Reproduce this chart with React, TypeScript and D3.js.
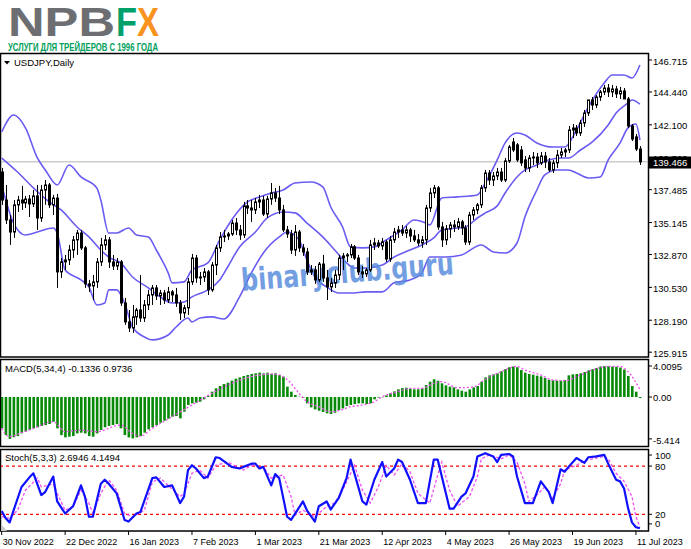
import * as d3 from 'd3';

// OHLC per daily bar, 30 Nov 2022 = bar 0
const candles: [number, number, number, number][] = [
  [138.74, 139.03, 136.4, 136.75], [136.75, 137.82, 135.04, 135.33], [135.33, 135.68, 133.55, 134.47],
  [134.47, 136.75, 134.05, 136.4], [136.4, 137.04, 135.9, 136.75], [136.75, 137.75, 136.04, 136.54],
  [136.54, 137.04, 136.18, 136.82], [136.82, 137.11, 135.54, 136.47], [136.47, 137.46, 136.25, 137.04],
  [137.04, 137.82, 134.62, 135.47], [135.47, 137.82, 135.19, 137.46], [137.46, 138.17, 136.4, 137.82],
  [137.82, 137.96, 136.18, 136.4], [136.4, 137.11, 135.68, 136.89], [136.89, 137.18, 130.49, 131.63],
  [131.63, 132.62, 131.2, 132.34], [132.34, 132.84, 131.77, 132.48], [132.48, 133.55, 132.12, 133.19],
  [133.19, 134.19, 132.62, 133.91], [133.91, 134.62, 132.84, 134.4], [134.4, 134.62, 133.19, 133.34],
  [133.34, 133.48, 130.49, 130.78], [130.78, 131.06, 130.21, 130.63], [130.63, 131.41, 129.63, 130.92],
  [130.92, 132.62, 130.49, 132.34], [132.34, 134.05, 132.05, 133.55], [133.55, 134.26, 133.19, 133.91],
  [133.91, 134.12, 131.91, 132.34], [132.34, 132.84, 131.77, 132.05], [132.05, 132.62, 131.77, 132.34],
  [132.34, 132.48, 129.21, 129.42], [129.42, 129.78, 127.86, 128.07], [128.07, 128.92, 127.36, 127.64],
  [127.64, 129.28, 127.29, 128.43], [128.43, 129.07, 127.86, 128.92], [128.92, 131.41, 128.07, 128.35],
  [128.35, 129.63, 128.07, 129.28], [129.28, 130.35, 128.92, 129.99], [129.99, 130.7, 129.28, 130.49],
  [130.49, 130.7, 129.63, 129.92], [129.92, 130.35, 129.28, 130.13], [130.13, 130.35, 129.35, 129.63],
  [129.63, 130.56, 129.42, 130.21], [130.21, 130.35, 129.49, 129.99], [129.99, 130.49, 129.14, 129.42],
  [129.42, 129.63, 128.21, 128.71], [128.71, 129.28, 128.35, 129.07], [129.07, 131.2, 128.57, 130.92],
  [130.92, 132.91, 130.7, 132.62], [132.62, 132.84, 130.85, 131.2], [131.2, 131.63, 130.7, 131.27],
  [131.27, 131.91, 130.92, 131.63], [131.63, 131.77, 129.99, 130.35], [130.35, 132.34, 130.21, 132.12],
  [132.12, 133.55, 131.41, 133.34], [133.34, 134.47, 133.05, 134.12], [134.12, 134.62, 133.76, 134.19],
  [134.19, 134.47, 133.91, 134.33], [134.33, 135.33, 134.19, 135.11], [135.11, 135.47, 134.26, 134.62],
  [134.62, 134.97, 133.91, 134.26], [134.26, 136.61, 134.05, 136.33], [136.33, 136.75, 135.75, 136.18],
  [136.18, 136.75, 135.19, 136.04], [136.04, 136.89, 135.75, 136.61], [136.61, 137.11, 136.18, 136.75],
  [136.75, 137.04, 135.61, 135.75], [135.75, 137.04, 135.47, 136.82], [136.82, 137.96, 136.4, 137.25],
  [137.25, 137.61, 136.61, 136.89], [136.89, 137.75, 135.75, 136.04], [136.04, 136.4, 134.47, 134.62],
  [134.62, 134.9, 134.05, 134.33], [134.33, 134.62, 132.91, 133.19], [133.19, 134.97, 132.77, 134.47],
  [134.47, 134.62, 133.05, 133.34], [133.34, 133.62, 132.77, 133.05], [133.05, 133.34, 131.41, 131.63],
  [131.63, 132.12, 131.41, 131.77], [131.77, 132.05, 130.78, 131.06], [131.06, 132.34, 130.92, 132.19],
  [132.19, 132.84, 130.92, 131.2], [131.2, 131.77, 129.63, 130.56], [130.56, 131.2, 130.21, 130.85],
  [130.85, 131.77, 130.49, 131.41], [131.41, 132.84, 131.06, 132.62], [132.62, 132.98, 131.77, 132.77],
  [132.77, 132.98, 132.34, 132.84], [132.84, 133.62, 132.62, 133.41], [133.41, 133.55, 132.48, 132.62],
  [132.62, 132.84, 131.41, 131.63], [131.63, 132.05, 131.2, 131.49], [131.49, 131.91, 131.27, 131.77],
  [131.77, 133.91, 131.63, 133.55], [133.55, 134.05, 133.19, 133.69], [133.69, 133.91, 133.34, 133.48],
  [133.48, 134.05, 133.19, 133.76], [133.76, 133.91, 132.34, 132.55], [132.55, 134.19, 132.34, 133.91],
  [133.91, 134.76, 133.69, 134.47], [134.47, 134.9, 134.05, 134.62], [134.62, 134.97, 134.19, 134.4],
  [134.4, 134.9, 134.05, 134.62], [134.62, 134.76, 133.76, 134.19], [134.19, 134.62, 133.76, 133.91],
  [133.91, 134.33, 133.48, 133.69], [133.69, 134.19, 133.34, 133.91], [133.91, 136.4, 133.55, 136.18],
  [136.18, 137.61, 135.9, 137.25], [137.25, 137.82, 136.89, 137.61], [137.61, 137.75, 134.62, 134.83],
  [134.83, 135.19, 133.41, 133.91], [133.91, 134.97, 133.55, 134.69], [134.69, 135.19, 134.05, 134.97],
  [134.97, 135.33, 134.47, 134.83], [134.83, 135.47, 134.62, 135.19], [135.19, 135.33, 134.26, 134.76],
  [134.76, 134.97, 133.55, 133.76], [133.76, 135.9, 133.55, 135.68], [135.68, 136.25, 135.33, 136.04],
  [136.04, 136.54, 135.75, 136.4], [136.4, 137.82, 136.18, 137.61], [137.61, 138.89, 137.32, 138.67],
  [138.67, 138.89, 137.82, 138.17], [138.17, 138.74, 137.75, 138.46], [138.46, 139.03, 138.17, 138.74],
  [138.74, 139.03, 138.03, 138.17], [138.17, 139.74, 138.03, 139.53], [139.53, 140.67, 139.39, 140.52],
  [140.88, 141.16, 140.17, 140.31], [140.67, 140.81, 139.46, 139.6], [140.31, 140.59, 139.17, 139.39],
  [139.6, 139.88, 138.74, 139.03], [139.03, 139.95, 138.74, 139.74], [139.74, 140.17, 139.24, 139.81],
  [139.81, 140.1, 139.03, 139.39], [139.39, 140.17, 139.24, 139.88], [139.88, 140.17, 139.03, 139.46],
  [139.46, 139.74, 138.74, 138.89], [138.89, 139.6, 138.67, 139.39], [139.39, 140.31, 139.03, 139.95],
  [139.95, 140.45, 139.74, 140.17], [140.17, 140.45, 139.81, 140.31], [140.31, 142.02, 140.1, 141.73],
  [141.73, 142.16, 141.16, 141.87], [141.87, 142.09, 141.31, 141.52], [141.52, 142.45, 141.31, 142.23],
  [142.23, 143.16, 141.95, 142.94], [142.94, 143.8, 142.73, 143.87], [143.87, 144.08, 143.16, 143.51],
  [143.51, 144.22, 143.3, 144.08], [144.08, 144.58, 143.8, 144.44], [144.44, 144.94, 144.22, 144.72],
  [144.72, 145.01, 144.08, 144.44], [144.44, 144.94, 144.08, 144.65], [144.65, 144.87, 144.01, 144.3],
  [144.3, 144.8, 143.94, 144.51], [144.51, 144.72, 143.94, 143.94], [143.94, 144.08, 141.87, 142.02],
  [142.02, 142.16, 140.95, 141.09], [141.24, 141.45, 140.24, 140.38], [140.38, 140.59, 139.24, 139.466],
];

const lastPrice = 139.466;

const bbUpper: [number, number][] = [
  [0, 141.59], [3, 142.8], [6, 141.88], [9, 139.74], [11, 138.89], [14, 137.82], [17, 139.24], [20, 138.39],
  [24, 137.61], [25, 136.75], [27, 134.4], [29, 134.4], [32, 134.76], [34, 134.26], [37, 134.12], [39, 133.19],
  [42, 131.56], [43, 130.85], [46, 130.92], [48, 131.77], [52, 132.27], [55, 133.91], [58, 135.33], [62, 136.61],
  [65, 136.97], [68, 137.25], [71, 137.46], [74, 137.96], [78, 138.03], [81, 137.68], [83, 136.25], [86, 134.83],
  [88, 133.41], [91, 133.34], [94, 133.41], [97, 133.91], [101, 134.62], [104, 135.33], [107, 135.11], [108, 134.97],
  [111, 136.89], [115, 136.97], [120, 137.11], [122, 137.96], [125, 139.6], [127, 140.81], [130, 141.52],
  [132, 141.38], [135, 140.81], [139, 140.52], [142, 140.52], [145, 141.73], [148, 143.37], [152, 145.08],
  [154, 145.65], [157, 145.65], [159, 145.43], [161, 146.36],
];

const bbMiddle: [number, number][] = [
  [0, 139.74], [4, 138.74], [8, 137.61], [12, 136.61], [15, 136.04], [19, 134.83], [22, 134.12], [25, 133.19],
  [27, 132.69], [30, 132.27], [33, 131.27], [37, 130.49], [40, 129.85], [43, 129.42], [46, 129.49], [48, 129.85],
  [52, 130.35], [55, 131.06], [57, 131.98], [60, 133.41], [64, 134.47], [67, 135.47], [71, 135.9], [74, 135.83],
  [77, 135.11], [81, 134.12], [84, 133.19], [87, 132.27], [89, 131.91], [92, 131.91], [96, 132.12], [99, 132.69],
  [103, 133.19], [106, 133.55], [109, 134.05], [111, 134.62], [115, 134.76], [117, 134.83], [120, 135.47],
  [122, 135.83], [125, 136.33], [127, 137.25], [130, 138.39], [132, 138.89], [135, 139.24], [138, 139.6],
  [141, 139.74], [143, 139.74], [146, 140.31], [149, 140.88], [153, 142.09], [155, 142.94], [158, 143.66],
  [159, 143.87], [161, 143.58],
];

const bbLower: [number, number][] = [
  [0, 137.82], [3, 135.11], [6, 134.26], [9, 134.47], [13, 134.76], [14, 134.4], [16, 131.77], [20, 131.06],
  [22, 130.56], [24, 129.28], [26, 129.42], [27, 130.35], [29, 130.35], [31, 129.42], [33, 127.71], [36, 127.0],
  [38, 126.79], [42, 127.14], [44, 127.71], [47, 128.35], [48, 128.07], [50, 128.35], [53, 128.43], [56, 128.28],
  [60, 129.85], [63, 131.56], [66, 132.98], [70, 134.12], [72, 134.47], [75, 133.91], [77, 132.48], [79, 131.27],
  [82, 130.56], [85, 130.13], [88, 130.13], [92, 130.21], [96, 130.21], [99, 130.85], [103, 131.06], [106, 131.56],
  [108, 132.69], [112, 132.69], [116, 132.84], [121, 133.55], [124, 133.05], [127, 132.98], [130, 133.69],
  [132, 135.54], [135, 137.46], [137, 138.53], [140, 138.89], [143, 138.89], [145, 138.67], [148, 138.32],
  [151, 138.39], [153, 139.6], [156, 140.81], [158, 141.88], [160, 142.16], [161, 141.02],
];

const macdHist: number[] = [
  -4.05, -4.92, -5.414, -5.2, -5.05, -4.7, -4.48, -4.27, -4.05, -3.92, -3.75, -3.62, -3.49, -3.19, -4.05, -4.92,
  -5.22, -5.13, -5.05, -4.7, -4.61, -4.7, -5.05, -5.13, -4.7, -4.27, -3.92, -3.75, -3.62, -3.49, -4.05, -4.92,
  -5.22, -5.35, -5.22, -5.05, -4.61, -4.18, -3.92, -3.62, -3.32, -3.06, -2.8, -2.54, -2.46, -2.76, -1.9, -1.03,
  -0.82, -0.73, -0.6, -0.3, 0.13, 0.69, 1.12, 1.42, 1.68, 1.85, 2.11, 2.37, 2.54, 2.72, 2.85, 2.98, 3.06, 3.15,
  3.06, 3.15, 2.98, 3.06, 2.85, 2.63, 1.34, 0.69, 0.26, 0.04, -0.09, -0.82, -1.34, -1.6, -1.77, -1.94, -2.11,
  -2.2, -2.03, -1.68, -1.47, -1.16, -1.03, -0.91, -0.82, -0.82, -0.91, -0.82, -0.3, -0.09, -0.04, 0.22, 0.47,
  0.73, 0.99, 1.16, 1.21, 1.08, 0.99, 0.99, 1.12, 1.55, 1.98, 2.29, 2.11, 1.77, 1.51, 1.34, 1.25, 0.99, 0.82,
  0.69, 0.99, 1.25, 1.42, 1.98, 2.54, 2.8, 2.93, 3.06, 3.32, 3.6, 3.85, 3.95, 3.85, 3.49, 3.15, 2.98, 2.89,
  2.76, 2.67, 2.46, 2.24, 2.16, 2.11, 2.11, 2.2, 2.8, 2.93, 2.98, 3.06, 3.23, 3.45, 3.6, 3.75, 3.95, 4.0095,
  3.98, 3.93, 3.9, 3.8, 3.55, 2.72, 1.42, 0.69, -0.1336,
];

const macdSignal: [number, number][] = [
  [0, -4.05], [2, -5.13], [5, -4.61], [8, -4.05], [13, -3.19], [16, -4.48], [20, -4.27], [24, -4.48],
  [30, -3.62], [33, -4.7], [35, -5.05], [38, -4.05], [43, -2.54], [48, -1.03], [53, 0.47], [58, 1.77],
  [63, 2.63], [68, 2.98], [70, 2.85], [73, 1.77], [75, 0.47], [77, -0.6], [80, -1.25], [83, -1.9], [85, -1.77],
  [88, -1.25], [91, -1.03], [94, -0.6], [96, 0.04], [100, 0.69], [103, 1.12], [106, 1.12], [109, 1.77],
  [111, 1.98], [115, 1.2], [119, 1.3], [122, 2.29], [126, 3.28], [130, 3.95], [132, 3.49], [136, 2.85],
  [139, 2.2], [142, 2.11], [146, 2.85], [149, 3.49], [153, 3.95], [156, 3.95], [158, 3.28], [161, 0.9736],
];

const stochMain: [number, number][] = [
  [0, 24], [1, 15], [2, 10], [3, 25], [5, 54], [7, 66], [8, 71], [10, 44], [11, 48], [13, 67], [14, 36],
  [16, 21], [18, 30], [20, 56], [21, 42], [22, 17], [23, 17], [25, 58], [26, 63], [27, 58], [29, 46], [31, 13],
  [32, 11], [34, 21], [35, 23], [38, 65], [39, 66], [41, 54], [43, 56], [45, 34], [46, 42], [47, 75], [48, 81],
  [49, 77], [51, 65], [52, 67], [54, 91], [55, 90], [58, 79], [60, 77], [61, 79], [63, 83], [64, 83], [65, 77],
  [66, 79], [68, 56], [69, 70], [70, 65], [72, 17], [73, 13], [76, 36], [77, 25], [79, 11], [80, 30], [82, 36],
  [83, 26], [85, 40], [87, 65], [88, 88], [91, 36], [92, 32], [94, 63], [96, 85], [97, 67], [99, 77], [100, 88],
  [101, 85], [103, 63], [105, 34], [107, 34], [109, 88], [110, 88], [113, 27], [114, 27], [116, 42], [117, 46],
  [119, 67], [120, 92], [122, 96], [124, 92], [125, 85], [126, 94], [128, 95], [129, 92], [130, 67], [132, 34],
  [134, 34], [136, 61], [138, 48], [139, 34], [141, 76], [142, 73], [143, 79], [145, 90], [147, 84], [148, 91],
  [150, 92], [152, 94], [153, 83], [155, 63], [156, 61], [157, 52], [158, 28], [159, 10], [160, 4], [161, 2.6946],
];

const stochSignal: [number, number][] = [
  [0, 17], [2, 15], [4, 25], [6, 50], [9, 65], [10, 54], [13, 58], [14, 46], [16, 25], [18, 30], [20, 50],
  [22, 34], [23, 21], [25, 46], [27, 63], [29, 50], [31, 21], [33, 17], [36, 25], [38, 60], [40, 65], [42, 56],
  [45, 42], [46, 46], [48, 71], [50, 75], [52, 65], [54, 81], [57, 85], [61, 75], [63, 81], [66, 79], [68, 65],
  [71, 69], [73, 42], [74, 19], [76, 25], [79, 17], [82, 30], [84, 34], [86, 50], [89, 81], [91, 50], [93, 34],
  [95, 54], [97, 81], [99, 69], [101, 83], [103, 73], [105, 46], [108, 34], [110, 69], [111, 85], [113, 50],
  [115, 30], [118, 42], [120, 67], [121, 89], [123, 94], [126, 89], [128, 94], [130, 85], [132, 58], [133, 36],
  [135, 44], [137, 54], [139, 40], [141, 58], [142, 75], [145, 81], [147, 87], [149, 89], [152, 92], [153, 89],
  [155, 71], [157, 61], [159, 42], [160, 17], [161, 4.1494],
];

const priceTicks = [146.715, 144.44, 142.1, 139.76, 137.485, 135.145, 132.87, 130.53, 128.19, 125.915];
const macdTicks = [4.0095, 0, -5.414];
const macdTickLabels = ['4.0095', '0.00', '-5.414'];
const stochLevels = [80, 20];
const stochTicks = [100, 80, 20, 0];
const dateLabels = [
  '30 Nov 2022', '22 Dec 2022', '16 Jan 2023', '7 Feb 2023', '1 Mar 2023', '21 Mar 2023',
  '12 Apr 2023', '4 May 2023', '26 May 2023', '19 Jun 2023', '11 Jul 2023',
];
const dateBars = [0, 16, 32, 48, 64, 80, 96, 112, 128, 144, 160];

const FONT = '"Liberation Sans", Arial, sans-serif';
const BAND = '#6a5cf2';
const PINK = '#f050f0';

export default function App() {
  const plotR = 648;
  const x = d3.scaleLinear().domain([0, 161]).range([1.7, 1.7 + 3.964 * 161]);
  const yP = d3.scaleLinear().domain([125.915, 146.715]).range([352.2, 60]);
  const yM = d3.scaleLinear().domain([-5.414, 4.0095]).range([438.9, 366]);
  const yS = d3.scaleLinear().domain([0, 100]).range([530.4, 450]);

  const bandLine = d3
    .line<[number, number]>()
    .x((d) => x(d[0]))
    .y((d) => yP(d[1]))
    .curve(d3.curveMonotoneX);
  const macdLine = d3
    .line<[number, number]>()
    .x((d) => x(d[0]))
    .y((d) => yM(d[1]))
    .curve(d3.curveMonotoneX);
  const stochLine = d3
    .line<[number, number]>()
    .x((d) => x(d[0]))
    .y((d) => yS(d[1]));

  const zero = yM(0);
  // stoch axis labels sit inside the panel at the top/bottom, like the terminal does
  const stochLabelY = (v: number) => (v === 100 ? yS(v) + 8.5 : v === 0 ? yS(v) - 3 : yS(v) + 3.5);

  return (
    <svg
      width={691}
      height={549}
      style={{ position: 'absolute', left: 0, top: 0, background: '#fff' }}
      fontFamily={FONT}
    >
      <defs>
        <clipPath id="main">
          <rect x={1} y={54} width={plotR - 1} height={303} />
        </clipPath>
        <clipPath id="macd">
          <rect x={1} y={360} width={plotR - 1} height={86} />
        </clipPath>
        <clipPath id="stoch">
          <rect x={1} y={450} width={plotR - 1} height={81} />
        </clipPath>
      </defs>
      <rect width={691} height={549} fill="#fff" />

      {/* logo */}
      <text x={8} y={36} fontSize={40} fontWeight="bold" fill="#6d6e71" textLength={107} lengthAdjust="spacingAndGlyphs">
        NPB
      </text>
      <text x={116} y={36} fontSize={40} fontWeight="bold" fill="#00a06b" textLength={21} lengthAdjust="spacingAndGlyphs">
        F
      </text>
      <text x={137} y={36} fontSize={40} fontWeight="bold" fill="#f7931e" textLength={22} lengthAdjust="spacingAndGlyphs">
        X
      </text>
      <text x={8} y={51} fontSize={10} fontWeight="bold" fill="#00a05a" textLength={150} lengthAdjust="spacingAndGlyphs">
        УСЛУГИ ДЛЯ ТРЕЙДЕРОВ С 1996 ГОДА
      </text>

      {/* panel frames */}
      <rect x={0.5} y={53.5} width={plotR} height={303.5} fill="none" stroke="#000" strokeWidth={1.5} />
      <rect x={0.5} y={359.5} width={plotR} height={87} fill="none" stroke="#000" strokeWidth={1.5} />
      <rect x={0.5} y={449.5} width={plotR} height={81.5} fill="none" stroke="#000" strokeWidth={1.5} />

      {/* main price panel */}
      <g clipPath="url(#main)">
        <line x1={0} x2={plotR} y1={yP(lastPrice)} y2={yP(lastPrice)} stroke="#b4b4b4" />
        {[bbUpper, bbMiddle, bbLower].map((b, k) => (
          <path key={k} d={bandLine(b) ?? ''} fill="none" stroke={BAND} strokeWidth={1.6} />
        ))}
        <text
          x={242}
          y={291}
          transform="rotate(-4.5 242 291)"
          fontSize={31}
          fontWeight="bold"
          fill="#5b8edd"
          opacity={0.85}
          textLength={213}
          lengthAdjust="spacingAndGlyphs"
          fontFamily='"DejaVu Sans", sans-serif'
        >
          binaryclub.guru
        </text>
        {candles.map(([o, h, l, c], i) => {
          const cx = Math.round(x(i)) + 0.5;
          const top = yP(Math.max(o, c));
          const bot = yP(Math.min(o, c));
          const up = c >= o;
          return (
            <g key={i}>
              <line x1={cx} x2={cx} y1={yP(h)} y2={yP(l)} stroke="#000" />
              <rect
                x={cx - 1}
                y={top}
                width={2}
                height={Math.max(0.8, bot - top)}
                fill={up ? '#fff' : '#000'}
                stroke="#000"
                strokeWidth={1}
              />
            </g>
          );
        })}
      </g>
      <polygon points="4,61 10,61 7,64.5" fill="#000" />
      <text x={14} y={66} fontSize={9.5} fill="#000">
        USDJPY,Daily
      </text>

      {/* MACD panel */}
      <g clipPath="url(#macd)">
        {macdHist.map((v, i) => (
          <rect
            key={i}
            x={x(i) - 1}
            y={Math.min(zero, yM(v))}
            width={2.6}
            height={Math.abs(yM(v) - zero)}
            fill="#078a07"
          />
        ))}
        <path d={macdLine(macdSignal) ?? ''} fill="none" stroke={PINK} strokeWidth={1.3} strokeDasharray="2,2" />
      </g>
      <text x={5} y={372} fontSize={9.5} fill="#000">
        MACD(5,34,4) -0.1336 0.9736
      </text>

      {/* Stochastic panel */}
      <g clipPath="url(#stoch)">
        {stochLevels.map((lv) => (
          <line key={lv} x1={0} x2={plotR} y1={yS(lv)} y2={yS(lv)} stroke="#ff0000" strokeWidth={1.2} strokeDasharray="3,3" />
        ))}
        <path d={stochLine(stochSignal) ?? ''} fill="none" stroke={PINK} strokeWidth={1.3} strokeDasharray="3,2" />
        <path d={stochLine(stochMain) ?? ''} fill="none" stroke="#1010ff" strokeWidth={2.2} strokeLinejoin="round" />
      </g>
      <polygon points="1,524 1,531 7,531" fill="#c8c8c8" />
      <text x={5} y={461} fontSize={9.5} fill="#000">
        Stoch(5,3,3) 2.6946 4.1494
      </text>

      {/* right price axis */}
      {priceTicks.map((p) => (
        <g key={p}>
          <line x1={plotR} x2={plotR + 4} y1={yP(p)} y2={yP(p)} stroke="#000" />
          <text x={653} y={Math.min(yP(p) + 4.5, 357)} fontSize={9.5} fill="#000">
            {p.toFixed(3)}
          </text>
        </g>
      ))}
      <rect x={649} y={156.5} width={42} height={12} fill="#000" />
      <text x={653} y={166} fontSize={9.5} fill="#fff">
        {lastPrice.toFixed(3)}
      </text>

      {macdTicks.map((v, k) => (
        <g key={v}>
          <line x1={plotR} x2={plotR + 4} y1={yM(v)} y2={yM(v)} stroke="#000" />
          <text x={653} y={yM(v) + (k === 2 ? 5 : 4)} fontSize={9.5} fill="#000">
            {macdTickLabels[k]}
          </text>
        </g>
      ))}

      {stochTicks.map((v) => (
        <g key={v}>
          <line x1={plotR} x2={plotR + 4} y1={stochLabelY(v) - 3.5} y2={stochLabelY(v) - 3.5} stroke="#000" />
          <text x={655} y={stochLabelY(v)} fontSize={9.5} fill="#000">
            {v}
          </text>
        </g>
      ))}

      {/* time axis */}
      {dateBars.map((b, k) => (
        <g key={b}>
          <line x1={x(b)} x2={x(b)} y1={531} y2={535} stroke="#000" />
          <text x={x(b) + 1} y={545} fontSize={9} fill="#000">
            {dateLabels[k]}
          </text>
        </g>
      ))}
    </svg>
  );
}
